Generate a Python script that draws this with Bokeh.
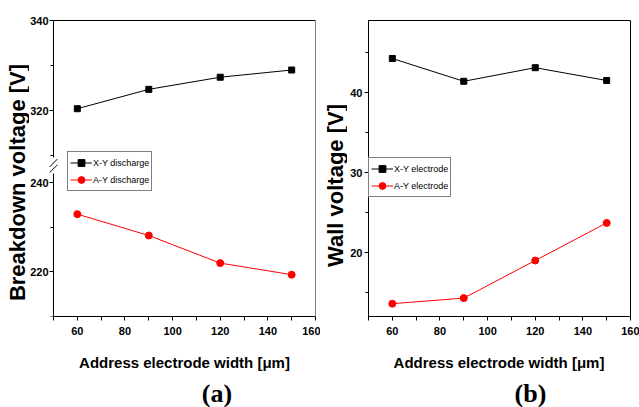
import math

from bokeh.embed import file_html
from bokeh.layouts import column, row
from bokeh.models import (FixedTicker, Label, Legend, LegendItem, LinearAxis,
                          Range1d)
from bokeh.plotting import figure
from bokeh.resources import INLINE

# ---- data -------------------------------------------------------------
width_um = [60, 90, 120, 150]

# (a) breakdown voltage [V]
xy_breakdown = [320.4, 324.7, 327.4, 329.0]
ay_breakdown = [233.0, 228.2, 222.0, 219.4]

# (b) wall voltage [V]
xy_wall = [44.25, 41.4, 43.1, 41.5]
ay_wall = [13.6, 14.3, 19.0, 23.7]

x_ticks = [60, 80, 100, 120, 140, 160]
x_minor = [50, 70, 90, 110, 130, 150]
upper_ticks = [320, 340]
upper_minor = [310, 330]
lower_ticks = [220, 240]
lower_minor = [210, 230]
wall_ticks = [20, 30, 40]
wall_minor = [15, 25, 35, 45]

# ---- styling ----------------------------------------------------------
SANS = "Liberation Sans"
SERIF = "Liberation Serif"
BLACK = "#000000"
RED = "#ff0000"
X_START, X_END = 50, 160
LOWER_LIM = (210, 276.52)   # lower y segment, extended to the top of the box
UPPER_LIM = (274.22, 340)   # upper y segment, extended to the bottom of the box
X_TITLE = "Address electrode width [\u03bcm]"
CORE_H = 345      # height of the plotting part; a caption strip sits below it


def style_y_axis(ax, ticks, minor, bounds=None, standoff=1):
    ax.ticker = FixedTicker(ticks=ticks, minor_ticks=minor)
    ax.major_tick_out = 4
    ax.major_tick_in = 0
    ax.minor_tick_out = 3
    ax.minor_tick_in = 0
    ax.axis_line_color = BLACK
    ax.major_tick_line_color = BLACK
    ax.minor_tick_line_color = BLACK
    ax.major_label_text_font = SANS
    ax.major_label_text_font_style = "bold"
    ax.major_label_text_font_size = "11px"
    ax.major_label_text_color = BLACK
    ax.major_label_standoff = standoff
    if bounds is not None:
        ax.bounds = bounds


def style_x_axis(ax):
    ax.ticker = FixedTicker(ticks=x_ticks, minor_ticks=x_minor)
    ax.bounds = (X_START, X_END)
    ax.major_tick_out = 4
    ax.major_tick_in = 0
    ax.minor_tick_out = 4
    ax.minor_tick_in = 0
    ax.axis_line_color = BLACK
    ax.major_tick_line_color = BLACK
    ax.minor_tick_line_color = BLACK
    ax.major_label_text_font = SANS
    ax.major_label_text_font_style = "bold"
    ax.major_label_text_font_size = "11px"
    ax.major_label_text_color = BLACK
    ax.major_label_standoff = 6


def box_edge(fig, side, **kw):
    """Plain axis line used as one side of the plot box."""
    ax = LinearAxis(ticker=FixedTicker(ticks=[]), major_tick_out=0, major_tick_in=0,
                    minor_tick_out=0, minor_tick_in=0, major_label_text_font_size="0px",
                    major_label_standoff=0, axis_line_color=BLACK, **kw)
    fig.add_layout(ax, side)


def make_legend(items, loc):
    return Legend(items=items, location=loc, border_line_color=BLACK, border_line_width=1,
                  background_fill_color="white", background_fill_alpha=1.0,
                  padding=2, spacing=0, margin=0, glyph_width=22, glyph_height=17,
                  label_height=17, label_standoff=1, label_text_font=SANS,
                  label_text_font_size="9px", label_text_color=BLACK)


def base_fig(**kw):
    p = figure(output_backend="svg", toolbar_location=None, **kw)
    p.grid.grid_line_color = None
    p.background_fill_color = "white"
    p.border_fill_color = "white"
    return p


def text_strip(width, height, texts):
    """Blank strip whose frame fills the canvas; carries titles as text."""
    p = base_fig(width=width, height=height, x_range=Range1d(0, width),
                 y_range=Range1d(0, height), x_axis_location=None,
                 y_axis_location=None, min_border=0)
    p.frame_align = False
    p.outline_line_color = None
    for text, x, y, font, size, angle in texts:
        p.add_layout(Label(x=x, y=y, x_units="screen", y_units="screen", text=text,
                           angle=angle, text_align="center", text_baseline="middle",
                           text_font=font, text_font_style="bold", text_font_size=size,
                           text_color=BLACK))
    return p


# ---- (a) breakdown voltage on a broken y axis -------------------------
# The frame reaches past the box on the left and top so the pinned y axes,
# their labels and the break marks all sit inside it; the box is drawn by
# axis lines pinned to the data limits.
pa = base_fig(width=291, height=CORE_H, x_range=Range1d(39.92, X_END),
              y_range=Range1d(LOWER_LIM[0], 278.31), y_axis_location=None,
              min_border_left=0, min_border_right=5, min_border_top=12, min_border_bottom=29)
pa.extra_y_ranges = {"upper": Range1d(UPPER_LIM[0], 341.78)}
pa.outline_line_color = None
style_x_axis(pa.xaxis[0])

lower_axis = LinearAxis(fixed_location=X_START)
style_y_axis(lower_axis, lower_ticks, lower_minor, bounds=(210, 242.1))
pa.add_layout(lower_axis, "left")
upper_axis = LinearAxis(fixed_location=X_START, y_range_name="upper")
style_y_axis(upper_axis, upper_ticks, upper_minor, bounds=(309.5, UPPER_LIM[1]))
pa.add_layout(upper_axis, "left")
box_edge(pa, "above", fixed_location=UPPER_LIM[1], y_range_name="upper",
         bounds=(X_START, X_END))
box_edge(pa, "right", fixed_location=X_END, bounds=LOWER_LIM)

xy_line = pa.line(width_um, xy_breakdown, line_color=BLACK, line_width=1, y_range_name="upper")
xy_mark = pa.scatter(width_um, xy_breakdown, marker="square", size=6,
                     fill_color=BLACK, line_color=BLACK, y_range_name="upper")
ay_line = pa.line(width_um, ay_breakdown, line_color=RED, line_width=1)
ay_mark = pa.scatter(width_um, ay_breakdown, marker="circle", size=7,
                     fill_color=RED, line_color=RED)

# axis-break marks just above the end of the lower axis
pa.scatter([X_START, X_START], [243.2, 244.5], marker="dash", size=11,
           angle=math.pi / 4, line_color=BLACK, line_width=1)

pa.add_layout(make_legend([
    LegendItem(label="X-Y discharge", renderers=[xy_line, xy_mark]),
    LegendItem(label="A-Y discharge", renderers=[ay_line, ay_mark]),
], (38, 125)))

lab_a = text_strip(29, CORE_H, [("Breakdown voltage [V]", 16.5, 163, SANS, "22px", math.pi / 2)])
cap_a = text_strip(320, 407 - CORE_H, [(X_TITLE, 184, 45, SANS, "15px", 0),
                                       ("(a)", 216.5, 14, SERIF, "26px", 0)])

# ---- (b) wall voltage -------------------------------------------------
pb = base_fig(width=292, height=CORE_H, x_range=Range1d(X_START, X_END), y_range=Range1d(12, 49),
              min_border_left=20, min_border_right=9, min_border_top=20, min_border_bottom=29)
pb.outline_line_color = BLACK
style_y_axis(pb.yaxis[0], wall_ticks, wall_minor, standoff=2)
style_x_axis(pb.xaxis[0])
b_xy_line = pb.line(width_um, xy_wall, line_color=BLACK, line_width=1)
b_xy_mark = pb.scatter(width_um, xy_wall, marker="square", size=6, fill_color=BLACK, line_color=BLACK)
b_ay_line = pb.line(width_um, ay_wall, line_color=RED, line_width=1)
b_ay_mark = pb.scatter(width_um, ay_wall, marker="circle", size=7, fill_color=RED, line_color=RED)
pb.add_layout(make_legend([
    LegendItem(label="X-Y electrode", renderers=[b_xy_line, b_xy_mark]),
    LegendItem(label="A-Y electrode", renderers=[b_ay_line, b_ay_mark]),
], (0, 119)))

lab_b = text_strip(27, CORE_H, [("Wall voltage [V]", 15, 160, SANS, "22px", math.pi / 2)])
cap_b = text_strip(319, 407 - CORE_H, [(X_TITLE, 178.5, 45, SANS, "15px", 0),
                                       ("(b)", 210, 14, SERIF, "26px", 0)])

layout = row(
    column(row(lab_a, pa, spacing=0), cap_a, spacing=0),
    column(row(lab_b, pb, spacing=0), cap_b, spacing=0),
    spacing=0,
)

with open("out.html", "w") as f:
    f.write(file_html(layout, INLINE))
